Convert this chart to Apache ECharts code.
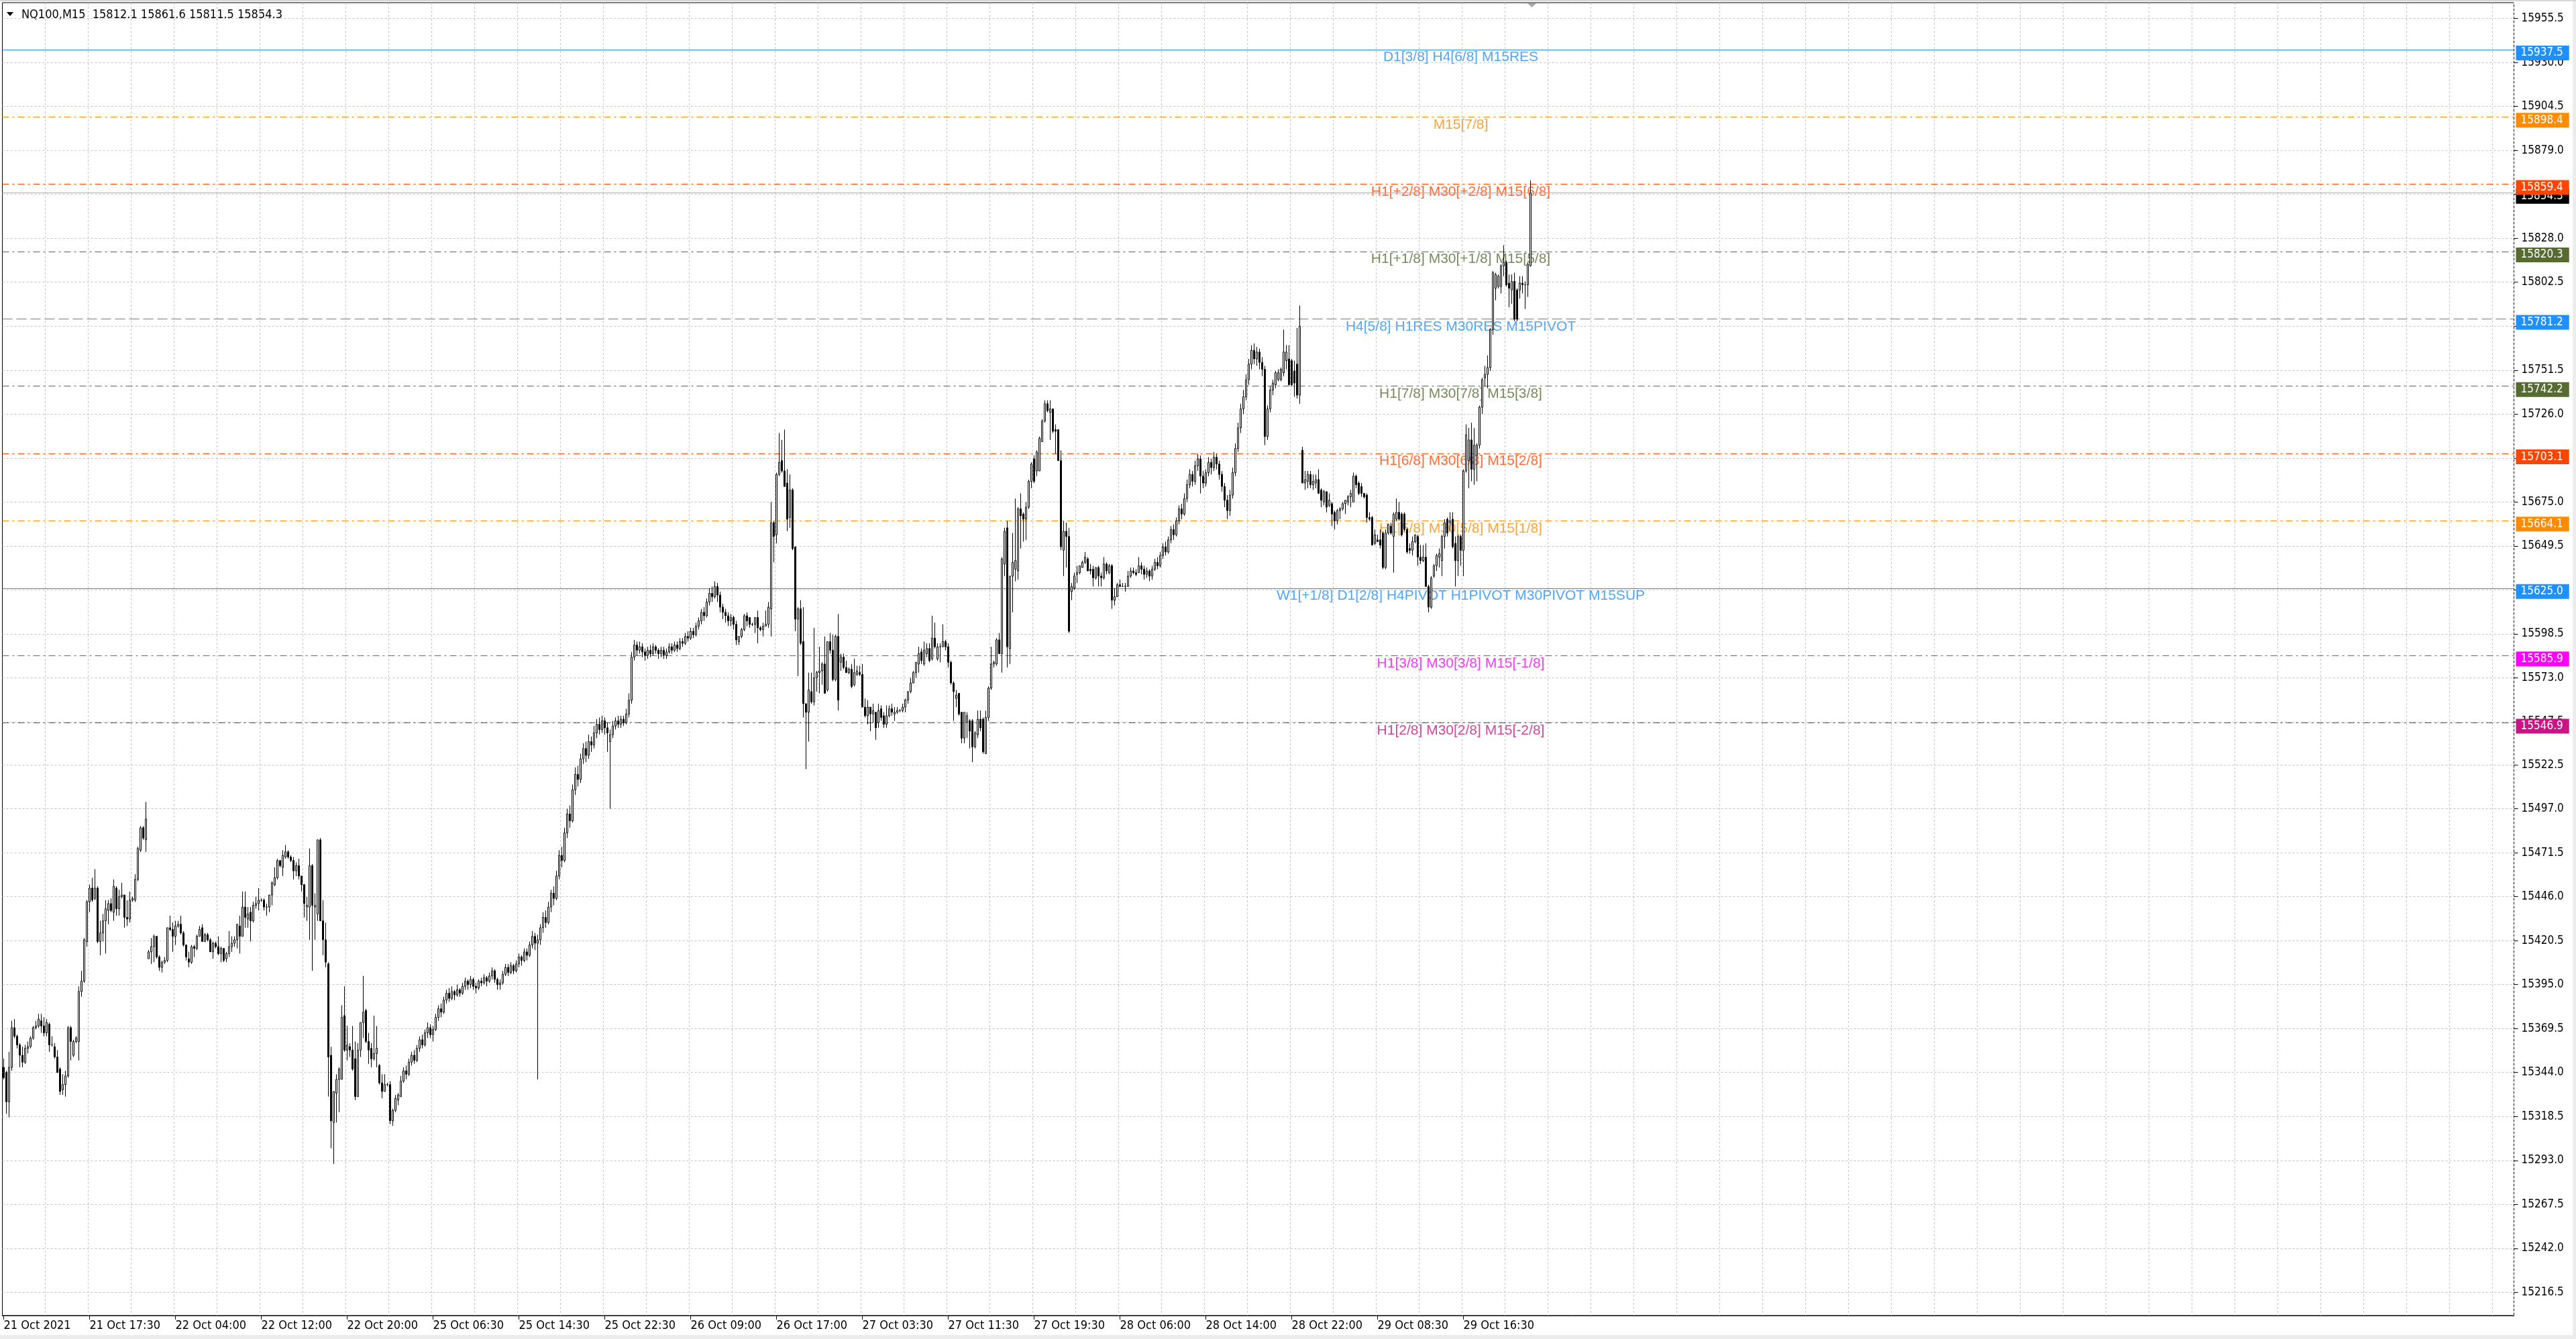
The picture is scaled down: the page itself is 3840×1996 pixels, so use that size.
<!DOCTYPE html>
<html><head><meta charset="utf-8">
<script src="https://cdn.jsdelivr.net/npm/echarts@6/dist/echarts.min.js"></script>
<style>html,body{margin:0;padding:0;background:#fff}#c{width:3840px;height:1996px}</style>
</head><body><div id="c"></div>
<script>
const symbolTitle = 'NQ100,M15  15812.1 15861.6 15811.5 15854.3';
const xTickLabels = ['21 Oct 2021','21 Oct 17:30','22 Oct 04:00','22 Oct 12:00','22 Oct 20:00','25 Oct 06:30','25 Oct 14:30','25 Oct 22:30','26 Oct 09:00','26 Oct 17:00','27 Oct 03:30','27 Oct 11:30','27 Oct 19:30','28 Oct 06:00','28 Oct 14:00','28 Oct 22:00','29 Oct 08:30','29 Oct 16:30'];
const yTicks = [15955.5,15930.0,15904.5,15879.0,15853.5,15828.0,15802.5,15777.0,15751.5,15726.0,15700.5,15675.0,15649.5,15624.0,15598.5,15573.0,15547.5,15522.5,15497.0,15471.5,15446.0,15420.5,15395.0,15369.5,15344.0,15318.5,15293.0,15267.5,15242.0,15216.5];
const yMin = 15203.0, yMax = 15964.7;
const bidPrice = 15854.3;
const levelValues = [15937.5,15898.4,15859.4,15820.3,15781.2,15742.2,15703.1,15664.1,15625.0,15585.9,15546.9];
const levelNames = ['D1[3/8] H4[6/8] M15RES','M15[7/8]','H1[+2/8] M30[+2/8] M15[6/8]','H1[+1/8] M30[+1/8] M15[5/8]','H4[5/8] H1RES M30RES M15PIVOT','H1[7/8] M30[7/8] M15[3/8]','H1[6/8] M30[6/8] M15[2/8]','H1[5/8] M30[5/8] M15[1/8]','W1[+1/8] D1[2/8] H4PIVOT H1PIVOT M30PIVOT M15SUP','H1[3/8] M30[3/8] M15[-1/8]','H1[2/8] M30[2/8] M15[-2/8]'];
const levelColors = ['#1E90FF','#FF8C00','#FF4500','#556B2F','#1E90FF','#556B2F','#FF4500','#FF8C00','#1E90FF','#FF00FF','#C71585'];
const levelDash = ['solid','dashdot','dashdot','dashdot','dash','dashdot','dashdot','dashdot','solid','dashdot','dashdot'];

// OHLC per M15 bar, one array per trading day: [open, close, low, high]
const day21 = [
[15347,15341,15340,15352],[15344,15327,15320,15345],[15327,15347,15318,15356],[15347,15370,15345,15374],[15370,15365,15364,15375],
[15365,15360,15358,15366],[15360,15354,15347,15361],[15354,15350,15347,15359],[15350,15358,15349,15360],[15358,15359,15355,15362],
[15359,15364,15358,15365],[15364,15370,15363,15371],[15370,15371,15369,15374],[15371,15375,15370,15378],[15374,15371,15367,15378],
[15371,15367,15365,15376],[15367,15373,15365,15375],[15372,15360,15356,15373],[15360,15360,15359,15365],[15359,15353,15352,15361],
[15353,15344,15344,15357],[15346,15333,15331,15347],[15334,15337,15331,15343],[15337,15342,15330,15345],[15342,15370,15341,15371],
[15370,15362,15351,15371],[15354,15362,15353,15363],[15362,15364,15361,15365],[15362,15391,15351,15394],[15391,15397,15388,15403],
[15397,15421,15396,15422],[15420,15443,15417,15444],[15443,15451,15437,15453],[15451,15444,15443,15457],[15445,15451,15444,15462],
[15451,15420,15419,15452],[15420,15425,15412,15432],[15425,15432,15420,15436],[15432,15439,15413,15444],[15438,15442,15430,15444],
[15442,15438,15437,15445],[15437,15452,15432,15456],[15451,15439,15435,15452],[15439,15446,15435,15450],[15446,15447,15445,15454],
[15447,15434,15428,15447],[15434,15433,15429,15444],[15433,15444,15431,15449],[15444,15445,15443,15446],[15444,15456,15443,15459],
[15456,15474,15455,15475],[15473,15486,15472,15487],[15486,15480,15479,15487],[15479,15491,15472,15501]
];
const day22 = [
[15410,15414,15410,15415],[15414,15417,15407,15422],[15417,15423,15408,15424],[15423,15411,15410,15423],[15411,15405,15403,15412],
[15405,15408,15402,15409],[15408,15409,15407,15411],[15409,15428,15408,15428],[15428,15427,15426,15435],[15427,15423,15414,15431],
[15423,15429,15418,15432],[15429,15430,15428,15432],[15430,15425,15424,15435],[15425,15418,15417,15426],[15418,15411,15409,15418],
[15410,15408,15405,15414],[15408,15417,15407,15418],[15417,15416,15411,15418],[15416,15423,15415,15424],[15423,15427,15423,15429],
[15428,15420,15420,15430],[15420,15424,15420,15425],[15424,15421,15420,15425],[15421,15414,15414,15422],[15414,15419,15410,15420],
[15419,15417,15416,15420],[15417,15413,15412,15423],[15413,15416,15408,15417],[15416,15409,15408,15416],[15410,15413,15408,15414],
[15413,15417,15411,15426],[15417,15419,15414,15423],[15419,15421,15417,15423],[15421,15430,15416,15430],[15429,15423,15413,15435],
[15423,15440,15423,15449],[15440,15434,15428,15449],[15433,15436,15428,15440],[15437,15432,15420,15440],[15432,15441,15431,15443],
[15441,15442,15439,15446],[15442,15444,15438,15451],[15444,15444,15443,15445],[15444,15440,15438,15445],[15440,15440,15435,15442],
[15440,15447,15437,15447],[15447,15454,15441,15455],[15453,15457,15452,15463],[15457,15467,15456,15468],[15467,15464,15463,15467],
[15463,15470,15458,15473],[15469,15472,15468,15476],[15472,15469,15468,15473],[15469,15467,15466,15470],[15467,15461,15456,15469],
[15461,15464,15458,15466],[15464,15458,15456,15468],[15458,15453,15449,15458],[15453,15442,15434,15453],[15440,15441,15432,15446],
[15440,15464,15421,15474],[15464,15441,15403,15465],[15440,15441,15421,15448],[15436,15479,15432,15479],[15479,15432,15432,15480],
[15432,15421,15412,15444],[15421,15408,15405,15431],[15407,15353,15330,15408],[15354,15316,15300,15359],[15315,15333,15291,15333],
[15332,15340,15315,15343],[15340,15346,15321,15347],[15340,15376,15340,15383],[15377,15357,15356,15394],[15357,15360,15351,15371],
[15359,15357,15353,15361],[15357,15346,15345,15371],[15352,15330,15328,15362],[15330,15357,15330,15361],[15357,15373,15353,15373],
[15373,15379,15364,15400],[15380,15362,15361,15381],[15362,15357,15349,15367],[15358,15352,15347,15361],[15352,15355,15351,15377],
[15355,15358,15347,15371]
];
const day25 = [
[15348,15338,15337,15349],[15338,15333,15329,15343],[15333,15337,15333,15343],[15337,15337,15336,15338],[15337,15316,15314,15339],
[15316,15322,15313,15323],[15322,15329,15321,15331],[15328,15331,15325,15332],[15330,15339,15330,15342],[15339,15345,15338,15347],
[15345,15343,15340,15348],[15343,15350,15342,15352],[15350,15354,15348,15356],[15354,15351,15349,15357],[15351,15358,15350,15360],
[15358,15363,15356,15365],[15363,15360,15358,15366],[15360,15367,15359,15369],[15367,15370,15364,15373],[15370,15366,15364,15372],
[15366,15369,15362,15371],[15369,15376,15368,15378],[15376,15381,15374,15383],[15381,15379,15376,15384],[15379,15386,15378,15388],
[15386,15390,15384,15392],[15390,15387,15385,15393],[15387,15391,15386,15394],[15391,15389,15386,15392],[15389,15392,15388,15395],
[15392,15390,15388,15393],[15390,15394,15389,15396],[15394,15397,15392,15399],[15397,15395,15392,15398],[15395,15398,15393,15400],
[15398,15394,15392,15399],[15394,15393,15390,15396],[15393,15397,15392,15398],[15397,15396,15394,15399],[15396,15399,15395,15401],
[15399,15397,15394,15400],[15397,15400,15396,15402],[15400,15403,15398,15405],[15403,15398,15396,15404],[15398,15395,15392,15399],
[15395,15396,15392,15398],[15396,15401,15395,15403],[15401,15405,15400,15407],[15405,15402,15400,15407],[15402,15406,15401,15408],
[15406,15403,15401,15407],[15403,15407,15402,15409],[15407,15411,15405,15413],[15411,15409,15406,15412],[15409,15414,15408,15416],
[15414,15412,15409,15416],[15412,15418,15411,15420],[15418,15423,15416,15426],[15423,15419,15415,15425],[15419,15421,15340,15424],
[15421,15428,15418,15430],[15428,15434,15425,15437],[15434,15431,15428,15438],[15431,15440,15430,15443],[15440,15448,15437,15450],
[15448,15445,15441,15452],[15445,15458,15444,15461],[15458,15470,15456,15473],[15470,15467,15463,15475],[15467,15483,15466,15486],
[15483,15494,15480,15497],[15494,15490,15486,15499],[15490,15508,15489,15511],[15508,15517,15505,15521],[15517,15514,15510,15522],
[15514,15526,15512,15529],[15526,15532,15523,15535],[15532,15528,15524,15536],[15528,15536,15526,15540],[15536,15534,15530,15539],
[15534,15541,15532,15545],[15541,15546,15538,15549],[15546,15543,15540,15550],[15543,15548,15541,15551],[15548,15544,15540,15550],
[15544,15541,15530,15547]
];
const day26 = [
[15536,15540,15497,15543],[15540,15545,15538,15548],[15545,15548,15543,15550],[15548,15546,15544,15551],[15546,15549,15544,15551],
[15549,15547,15545,15551],[15547,15552,15546,15555],[15552,15560,15550,15564],[15560,15585,15558,15588],[15585,15592,15583,15595],
[15592,15589,15586,15594],[15589,15591,15587,15594],[15591,15588,15585,15593],[15588,15586,15583,15590],[15586,15589,15584,15591],
[15589,15587,15585,15592],[15587,15591,15586,15593],[15591,15589,15587,15592],[15589,15587,15584,15590],[15587,15589,15585,15591],
[15589,15586,15584,15591],[15586,15588,15584,15590],[15588,15591,15587,15593],[15591,15589,15587,15593],[15589,15592,15588,15594],
[15592,15590,15588,15594],[15590,15594,15589,15596],[15594,15593,15591,15596],[15593,15597,15592,15599],[15597,15596,15594,15600],
[15596,15600,15595,15602],[15600,15598,15596,15602],[15598,15603,15597,15605],[15603,15606,15601,15608],[15606,15611,15604,15613],
[15611,15609,15606,15614],[15609,15617,15608,15619],[15617,15622,15615,15625],[15622,15620,15617,15626],[15620,15626,15619,15629],
[15626,15621,15617,15628],[15621,15614,15611,15623],[15614,15611,15607,15616],[15611,15609,15605,15613],[15609,15606,15603,15611],
[15606,15608,15603,15610],[15608,15604,15601,15609],[15604,15595,15592,15606],
[15594,15597,15592,15597],[15597,15601,15596,15602],[15601,15609,15600,15610],[15609,15606,15603,15611],[15608,15604,15602,15608],
[15604,15604,15603,15605],[15604,15608,15599,15608],[15608,15602,15593,15612],[15602,15601,15600,15603],[15601,15603,15597,15605],
[15603,15604,15603,15612],[15604,15614,15602,15617],[15613,15663,15597,15675],[15663,15655,15640,15664],[15656,15691,15651,15692],
[15691,15698,15690,15715],[15699,15693,15692,15711],[15693,15684,15684,15717],[15686,15665,15658,15694],[15666,15682,15660,15691],
[15682,15648,15647,15683],[15649,15607,15600,15649],[15607,15613,15574,15614],[15613,15593,15592,15618],[15594,15558,15550,15614],
[15558,15553,15520,15558],[15553,15566,15536,15576],[15565,15559,15558,15576],[15559,15573,15557,15602],[15573,15576,15565,15577],
[15576,15577,15564,15591],[15577,15581,15569,15582],[15581,15564,15564,15597],[15566,15594,15565,15594],[15594,15589,15587,15599],
[15589,15572,15571,15598],[15572,15597,15571,15598],[15597,15560,15554,15610]
];
const day27 = [
[15582,15585,15577,15587],[15585,15579,15578,15587],[15579,15576,15576,15583],[15576,15578,15575,15579],[15578,15568,15567,15581],
[15569,15576,15568,15584],[15575,15577,15574,15580],[15576,15575,15574,15580],[15575,15556,15556,15581],[15556,15551,15550,15561],
[15551,15556,15546,15560],[15556,15552,15542,15556],[15552,15554,15547,15558],[15553,15544,15537,15553],[15547,15554,15544,15558],
[15555,15550,15548,15557],[15551,15546,15544,15553],[15546,15551,15544,15557],[15551,15555,15550,15557],[15555,15553,15551,15558],
[15552,15553,15548,15556],[15553,15554,15552,15556],[15554,15554,15553,15555],[15554,15556,15553,15558],[15556,15560,15553,15561],
[15560,15565,15558,15565],[15565,15570,15564,15573],[15570,15576,15570,15577],[15576,15582,15573,15582],[15581,15587,15576,15591],
[15588,15583,15581,15590],[15581,15589,15580,15594],[15587,15590,15585,15593],[15590,15583,15582,15593],[15584,15596,15583,15609],
[15596,15591,15590,15605],[15584,15591,15583,15593],[15591,15591,15582,15593],[15591,15594,15591,15604],[15594,15591,15589,15595],
[15591,15582,15579,15593],[15582,15570,15569,15583],[15570,15565,15548,15571],[15561,15563,15556,15566],[15564,15552,15551,15564],
[15553,15538,15535,15553],[15538,15553,15535,15553],[15547,15551,15538,15553],[15548,15542,15532,15549],[15548,15533,15524,15549],
[15533,15541,15532,15542],[15540,15549,15538,15554],[15549,15544,15542,15554],[15549,15530,15529,15550],[15529,15550,15529,15554],
[15550,15567,15548,15568],[15567,15581,15566,15591],[15581,15582,15579,15583],[15581,15595,15580,15596],[15595,15587,15587,15599],
[15587,15642,15576,15643],[15639,15658,15632,15660],[15660,15591,15579,15664],[15590,15632,15581,15632],[15632,15640,15611,15657],
[15636,15641,15629,15677],[15635,15671,15630,15672],[15671,15667,15648,15680],[15668,15665,15652,15669],[15665,15672,15653,15675],
[15672,15687,15671,15688],[15687,15697,15683,15698],[15700,15687,15686,15702],[15693,15704,15690,15705],[15693,15712,15693,15713],
[15710,15722,15710,15723],[15722,15732,15721,15734],[15732,15728,15727,15734],[15727,15729,15711,15734],[15729,15716,15715,15729],
[15717,15716,15703,15720],[15717,15699,15699,15717],[15699,15649,15647,15705],[15647,15658,15632,15664],[15658,15655,15637,15663],
[15655,15600,15599,15660]
];
const day28 = [
[15623,15626,15618,15628],[15625,15632,15624,15634],[15633,15634,15628,15638],[15634,15638,15633,15638],[15637,15640,15637,15641],
[15640,15643,15639,15646],[15642,15635,15635,15643],[15636,15635,15633,15639],[15636,15631,15626,15638],[15631,15637,15630,15637],
[15637,15632,15626,15638],[15632,15631,15626,15634],[15631,15639,15630,15643],[15639,15635,15633,15640],[15634,15638,15633,15639],
[15638,15618,15613,15639],[15618,15620,15615,15625],[15620,15627,15620,15628],[15627,15626,15626,15630],[15626,15626,15626,15628],
[15626,15626,15623,15628],[15626,15632,15626,15635],[15632,15635,15631,15637],[15635,15634,15633,15637],[15634,15633,15632,15636],
[15634,15638,15634,15643],
[15638,15636,15633,15640],[15636,15633,15630,15638],[15633,15635,15631,15637],[15635,15632,15629,15636],[15632,15636,15630,15638],
[15636,15640,15635,15642],[15640,15638,15636,15643],[15638,15644,15637,15646],[15644,15649,15642,15651],[15649,15646,15644,15652],
[15646,15653,15645,15655],[15653,15659,15651,15661],[15659,15656,15653,15662],[15656,15664,15655,15666],[15664,15671,15662,15673],
[15671,15668,15665,15674],[15668,15677,15667,15680],[15677,15685,15675,15688],[15685,15691,15683,15694],[15691,15687,15684,15693],
[15687,15696,15685,15699],[15696,15700,15693,15703],[15700,15690,15680,15702],[15690,15686,15683,15693],[15686,15692,15684,15694],
[15692,15698,15690,15701],[15698,15695,15691,15700],[15695,15701,15693,15704],[15701,15697,15694,15703],[15697,15691,15688,15699],
[15691,15684,15681,15693],[15684,15676,15672,15686],[15676,15670,15665,15679],[15670,15679,15667,15682],[15679,15692,15677,15695],
[15692,15706,15690,15709],[15706,15718,15704,15721],[15718,15729,15715,15732],[15729,15736,15726,15740],[15736,15746,15734,15749],
[15746,15755,15743,15758],[15755,15763,15752,15766],[15763,15758,15755,15767],[15758,15762,15754,15765],[15762,15756,15752,15764],
[15756,15752,15748,15759],[15752,15713,15708,15754],[15713,15729,15711,15731],[15729,15740,15727,15742],[15740,15744,15737,15746],
[15743,15750,15741,15751],[15746,15750,15745,15752],[15746,15752,15745,15753],[15750,15762,15748,15775],[15757,15762,15752,15766],
[15758,15743,15743,15766],[15757,15743,15742,15758],[15751,15744,15736,15757],[15755,15737,15735,15776],[15737,15777,15732,15789]
];
const day29 = [
[15705,15686,15686,15707],[15686,15688,15682,15693],[15687,15691,15683,15693],[15691,15685,15683,15693],[15685,15687,15682,15691],
[15686,15688,15683,15691],[15688,15680,15680,15694],[15682,15676,15672,15683],[15675,15681,15673,15682],[15681,15672,15669,15681],
[15673,15676,15672,15680],[15674,15668,15661,15675],[15669,15664,15659,15670],[15664,15670,15662,15671],[15670,15671,15665,15672],
[15671,15674,15670,15675],[15674,15676,15668,15676],[15675,15678,15673,15679],[15678,15680,15672,15682],[15675,15690,15675,15692],
[15690,15685,15683,15691],[15686,15680,15679,15687],[15684,15680,15678,15686],[15680,15678,15677,15680],[15679,15666,15663,15680],
[15666,15665,15664,15669],[15666,15650,15650,15667],[15651,15656,15650,15659],[15653,15652,15652,15656],[15653,15650,15648,15659],
[15657,15637,15636,15658],[15637,15657,15636,15659],[15657,15662,15656,15662],[15661,15657,15656,15663],[15655,15668,15634,15669],
[15665,15669,15664,15677],[15669,15665,15664,15675],[15668,15656,15655,15669],[15668,15659,15658,15669],[15659,15646,15645,15660],
[15648,15647,15645,15651],[15647,15652,15644,15655],[15652,15656,15651,15656],[15655,15643,15638,15656],[15643,15641,15639,15650],
[15641,15643,15640,15650],[15643,15626,15626,15651],[15626,15614,15611,15627],[15614,15631,15613,15632],[15632,15638,15631,15639],
[15638,15644,15635,15645],[15643,15645,15637,15648],[15641,15655,15632,15656],[15655,15663,15648,15665],[15665,15657,15655,15666],
[15663,15664,15658,15669],[15665,15649,15648,15669],[15651,15641,15626,15655],[15641,15655,15632,15656],[15655,15647,15638,15656],
[15647,15693,15632,15694],[15693,15714,15692,15720],[15699,15711,15683,15718],[15711,15694,15687,15721],[15694,15708,15685,15718],
[15702,15708,15687,15709],[15708,15730,15706,15731],[15730,15746,15726,15747],[15747,15749,15742,15754],[15749,15753,15741,15760],
[15753,15775,15751,15776],[15775,15808,15772,15809],[15799,15807,15792,15808],[15800,15806,15799,15807],[15800,15812,15796,15813],
[15812,15814,15806,15824],[15814,15801,15800,15815],[15802,15799,15788,15807],[15798,15803,15790,15807],[15803,15781,15780,15808],
[15798,15781,15780,15799],[15798,15802,15793,15806],[15802,15801,15796,15806],[15801,15801,15787,15803],[15801,15813,15794,15814],
[15812.1,15854.3,15811.5,15861.6]
];
const candles = [].concat(day21, day22, day25, day26, day27, day28, day29);

const slotCount = 936;
const slots = Array.from({length: slotCount}, (_, i) => String(i));
const labelEvery = 32, gridEvery = 16, textAnchor = 543;

const FA = '"DejaVu Sans Condensed","DejaVu Sans",sans-serif';
const FT = '"Liberation Sans",Arial,sans-serif';
const dashOf = d => d === 'solid' ? 'solid' : (d === 'dash' ? [15, 6] : [10, 5, 3, 5]);

const chart = echarts.init(document.getElementById('c'), null, {renderer: 'canvas'});
chart.setOption({
  animation: false,
  backgroundColor: '#fff',
  grid: {left: 3.5, right: 92.5, top: 4, bottom: 35, show: true, borderColor: '#000', borderWidth: 1, backgroundColor: '#fff'},
  xAxis: {
    type: 'category', data: slots, boundaryGap: true,
    axisLine: {show: true, lineStyle: {color: '#000', width: 1}},
    axisTick: {show: true, alignWithLabel: true, length: 6, lineStyle: {color: '#000'},
      interval: i => i % labelEvery === 0 && i / labelEvery < xTickLabels.length},
    axisLabel: {show: true, align: 'left', margin: 6, fontSize: 18, fontFamily: FA, color: '#000',
      interval: i => i % labelEvery === 0 && i / labelEvery < xTickLabels.length,
      formatter: (v, i) => xTickLabels[Math.round(Number(v) / labelEvery)] || ''},
    splitLine: {show: true, interval: i => i > 0 && i % gridEvery === 0, lineStyle: {color: '#c4c4c4', type: [3, 3], width: 1}}
  },
  yAxis: {
    type: 'value', position: 'right', min: yMin, max: yMax, scale: true,
    axisLine: {show: false}, axisLabel: {show: false}, splitLine: {show: false},
    axisTick: {show: true, customValues: yTicks, length: 6, lineStyle: {color: '#000'}}
  },
  graphic: [
    {type: 'polygon', shape: {points: [[10, 18], [20, 18], [15, 24]]}, style: {fill: '#000'}},
    {type: 'text', x: 32, y: 22, style: {text: symbolTitle, fill: '#000', fontSize: 18, fontFamily: FA, verticalAlign: 'middle'}},
    {type: 'polygon', shape: {points: [[2277, 5], [2290, 5], [2283.5, 11]]}, style: {fill: '#a8a8a8'}},
    {type: 'rect', shape: {x: 0, y: 1990, width: 3840, height: 6}, style: {fill: '#ececec'}},
    {type: 'rect', shape: {x: 3835, y: 0, width: 5, height: 1996}, style: {fill: '#ececec'}},
    {type: 'rect', shape: {x: 0, y: 0, width: 3840, height: 2}, style: {fill: '#d8d8d8'}}
  ],
  series: [
    {
      name: 'grid', type: 'line', data: [], silent: true, z: 1,
      markLine: {
        silent: true, symbol: ['none', 'none'], animation: false,
        lineStyle: {color: '#c4c4c4', type: [3, 3], width: 1},
        label: {show: true, position: 'end', distance: 11, color: '#000', fontSize: 17, fontFamily: FA},
        data: yTicks.map(v => ({yAxis: v, label: {formatter: v.toFixed(1)}}))
      }
    },
    {
      name: 'bid', type: 'line', data: [], silent: true, z: 2,
      markLine: {
        silent: true, symbol: ['none', 'none'], animation: false,
        lineStyle: {color: '#b0b0b0', type: 'solid', width: 1},
        label: {show: true, position: 'end', distance: 3, offset: [0, 5], color: '#fff', backgroundColor: '#000', padding: [3, 9, 2, 7], fontSize: 17, fontFamily: FA, formatter: bidPrice.toFixed(1)},
        data: [{yAxis: bidPrice}]
      }
    },
    {
      name: 'levels', type: 'line', data: [], silent: true, z: 3,
      markLine: {
        silent: true, symbol: ['none', 'none'], animation: false,
        label: {show: true, position: 'end', distance: 3, offset: [0, 5], color: '#fff', padding: [3, 9, 2, 7], fontSize: 17, fontFamily: FA},
        data: levelValues.map((v, i) => ({
          yAxis: v,
          lineStyle: {color: levelColors[i], type: dashOf(levelDash[i]), width: 1},
          label: {formatter: v.toFixed(1), backgroundColor: levelColors[i]}
        }))
      }
    },
    {
      name: 'levelText', type: 'scatter', silent: true, z: 4, symbolSize: 0,
      label: {show: true, position: 'bottom', distance: 1, fontSize: 21, fontFamily: FT},
      data: levelValues.map((v, i) => ({value: [textAnchor, v], label: {color: levelColors[i], formatter: levelNames[i]}}))
    },
    {
      name: 'NQ100', type: 'candlestick', data: candles, barWidth: 2, z: 5, silent: true, large: false,
      itemStyle: {color: '#fff', color0: '#000', borderColor: '#000', borderColor0: '#000', borderWidth: 1}
    }
  ]
});
</script></body></html>
